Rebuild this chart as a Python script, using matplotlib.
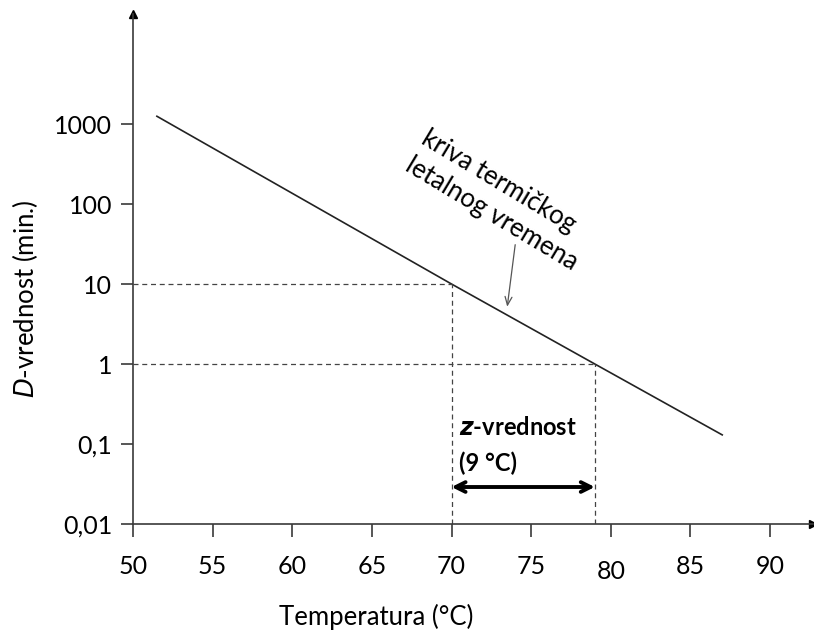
import numpy as np
import matplotlib
matplotlib.use("Agg")
import matplotlib.pyplot as plt

plt.rcParams['font.family'] = ['Lato', 'DejaVu Sans']

# data
temp = [51.5, 70, 79, 87]
d_value = [1250, 10, 1, 0.13]
ref_temp = [70, 79]          # temperatures for D = 10 and D = 1
ref_d = [10, 1]
z_value = 9
x_ticks = [50, 55, 60, 65, 70, 75, 80, 85, 90]
y_ticks = [0.01, 0.1, 1, 10, 100, 1000]
y_labels = ['0,01', '0,1', '1', '10', '100', '1000']

axis_col = '#3a3a3a'
fs = 18

fig = plt.figure(figsize=(8.14, 6.34), dpi=100)
ax = fig.add_axes([133 / 814, 110 / 634, 680 / 814, 510 / 634])

ax.set_yscale('log')
ax.set_xlim(50, 92.7)
ax.set_ylim(0.01, 10 ** 4.375)

# thermal death time curve
ax.plot(temp, d_value, color='#222222', lw=1.2)

# dashed guide lines
for t, d in zip(ref_temp, ref_d):
    ax.plot([50, t], [d, d], color='#444444', lw=0.9, ls=(0, (4, 3)))
    ax.plot([t, t], [0.01, d], color='#444444', lw=0.9, ls=(0, (4, 3)))

# z-value double arrow
ax.annotate('', xy=(ref_temp[0], 0.029), xytext=(ref_temp[1], 0.029),
            arrowprops=dict(arrowstyle='<->,head_length=0.7,head_width=0.35',
                            lw=2.8, color='black', shrinkA=0, shrinkB=0))
ax.text(70.5, 0.16, r'$\mathbfit{z}$-vrednost', fontsize=17, fontweight='bold',
        ha='left', va='center')
ax.text(70.5, 0.058, f'({z_value} °C)', fontsize=17, fontweight='bold',
        ha='left', va='center')

# curve label with arrow
ax.text(68.65, 960, 'kriva termičkog\nletalnog vremena', fontsize=18.6,
        rotation=-31, rotation_mode='anchor', ha='left', va='top',
        multialignment='left', linespacing=1.35)
ax.annotate('', xy=(73.5, 5.2), xytext=(74.0, 31),
            arrowprops=dict(arrowstyle='->,head_length=0.6,head_width=0.25',
                            lw=0.9, color='#555555', shrinkA=0, shrinkB=0))

# axes styling
for s in ['top', 'right']:
    ax.spines[s].set_visible(False)
for s in ['left', 'bottom']:
    ax.spines[s].set_color(axis_col)
    ax.spines[s].set_linewidth(1.2)
ax.plot(1, 0, '>', color='black', ms=6, transform=ax.transAxes, clip_on=False)
ax.plot(0, 1, '^', color='black', ms=6, transform=ax.transAxes, clip_on=False)

ax.set_yticks(y_ticks)
ax.set_yticklabels(y_labels)
ax.yaxis.set_minor_locator(matplotlib.ticker.NullLocator())
ax.set_xticks(x_ticks)
ax.tick_params(axis='both', labelsize=fs, color=axis_col, width=1.2, length=9)
ax.tick_params(axis='x', pad=13)
ax.tick_params(axis='y', pad=6)

# the 80 tick is drawn longer and its label sits a bit lower
t80 = ax.xaxis.get_major_ticks()[x_ticks.index(80)]
t80.tick1line.set_markersize(17)
t80.set_pad(17)

ax.set_xlabel('Temperatura (°C)', fontsize=18.5)
ax.xaxis.set_label_coords((376 - 133) / 680, (524 - 604) / 510)
ax.set_ylabel(r'$\mathit{D}$-vrednost (min.)', fontsize=18.5)
ax.yaxis.set_label_coords((40 - 133) / 680, (0.81 + 2) / 6.375)

fig.savefig('out.png', dpi=100)
